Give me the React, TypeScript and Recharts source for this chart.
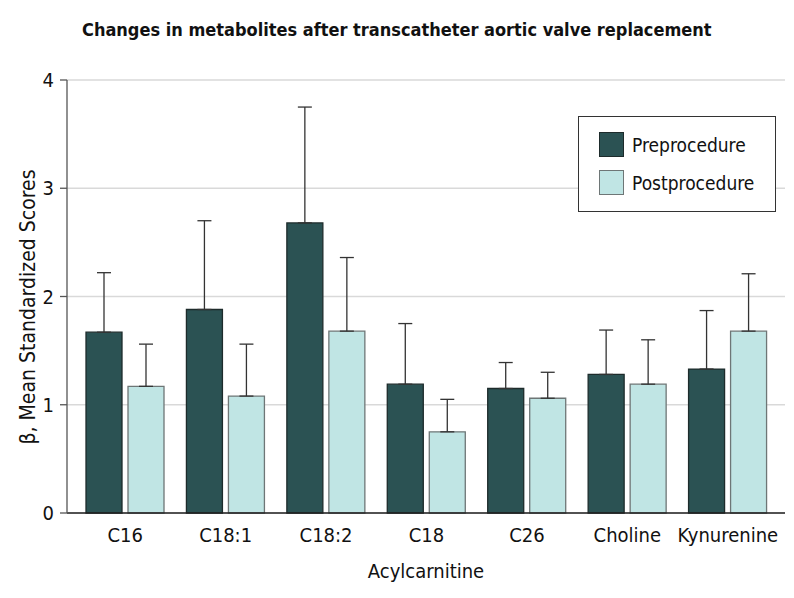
import {
  BarChart,
  Bar,
  XAxis,
  YAxis,
  CartesianGrid,
  ErrorBar,
  Legend,
} from "recharts";

const categories = ["C16", "C18:1", "C18:2", "C18", "C26", "Choline", "Kynurenine"];
const preValues = [1.67, 1.88, 2.68, 1.19, 1.15, 1.28, 1.33];
const preUpper = [2.22, 2.7, 3.75, 1.75, 1.39, 1.69, 1.87];
const postValues = [1.17, 1.08, 1.68, 0.75, 1.06, 1.19, 1.68];
const postUpper = [1.56, 1.56, 2.36, 1.05, 1.3, 1.6, 2.21];
const yTicks = [0, 1, 2, 3, 4];

const PRE_FILL = "#2b5253";
const POST_FILL = "#c0e5e4";
const FONT = "'DejaVu Sans Condensed', 'DejaVu Sans', sans-serif";

const data = categories.map((name, i) => ({
  name,
  pre: preValues[i],
  preErr: [0, +(preUpper[i] - preValues[i]).toFixed(3)],
  post: postValues[i],
  postErr: [0, +(postUpper[i] - postValues[i]).toFixed(3)],
}));

function LegendBox() {
  const items = [
    { label: "Preprocedure", fill: PRE_FILL, stroke: "#1d2b2b" },
    { label: "Postprocedure", fill: POST_FILL, stroke: "#6e7676" },
  ];
  return (
    <div
      style={{
        width: 198,
        height: 96,
        border: "1.3px solid #333",
        background: "#fff",
        boxSizing: "border-box",
        paddingTop: 15,
        paddingLeft: 20,
        fontFamily: FONT,
        fontSize: 19,
        color: "#111",
      }}
    >
      {items.map((it) => (
        <div key={it.label} style={{ display: "flex", alignItems: "center", height: 25, marginBottom: 13 }}>
          <span
            style={{
              width: 25,
              height: 25,
              background: it.fill,
              border: `1.3px solid ${it.stroke}`,
              boxSizing: "border-box",
              marginRight: 8,
            }}
          />
          <span>{it.label}</span>
        </div>
      ))}
    </div>
  );
}

export default function App() {
  return (
    <div style={{ position: "relative", width: 794, height: 598, background: "#fff" }}>
      <style>{`body{margin:0}`}</style>
      <div
        style={{
          position: "absolute",
          left: 82,
          top: 21,
          fontFamily: FONT,
          fontWeight: "bold",
          fontSize: 18,
          lineHeight: 1,
          color: "#111",
          whiteSpace: "nowrap",
        }}
      >
        Changes in metabolites after transcatheter aortic valve replacement
      </div>
      <div
        style={{
          position: "absolute",
          left: 426,
          top: 561,
          transform: "translateX(-50%)",
          fontFamily: FONT,
          fontSize: 20,
          lineHeight: 1,
          color: "#111",
          whiteSpace: "nowrap",
        }}
      >
        Acylcarnitine
      </div>
      <div
        style={{
          position: "absolute",
          left: 28,
          top: 307,
          transform: "translate(-50%, -50%) rotate(-90deg)",
          fontFamily: FONT,
          fontSize: 21,
          lineHeight: 1,
          color: "#111",
          whiteSpace: "nowrap",
        }}
      >
        β, Mean Standardized Scores
      </div>
      <BarChart
        width={794}
        height={598}
        data={data}
        margin={{ top: 80, right: 9, left: 22, bottom: 55 }}
        barGap={6}
        barSize={36}
      >
        <CartesianGrid vertical={false} stroke="#d9d9d9" strokeWidth={1.5} />
        <XAxis
          dataKey="name"
          height={30}
          padding={{ left: 8, right: 7 }}
          tickLine={false}
          tickSize={0}
          tickMargin={15}
          axisLine={{ stroke: "#222", strokeWidth: 1.3 }}
          tick={{ fontSize: 20, fill: "#111", fontFamily: FONT }}
        />
        <YAxis
          width={45}
          domain={[0, 4]}
          ticks={yTicks}
          interval={0}
          tickSize={7}
          tickMargin={6}
          axisLine={{ stroke: "#555", strokeWidth: 1.3 }}
          tickLine={{ stroke: "#555", strokeWidth: 1.3 }}
          tick={{ fontSize: 20, fill: "#111", fontFamily: FONT }}
        />
        <Legend
          layout="vertical"
          align="center"
          verticalAlign="middle"
          wrapperStyle={{ left: 578, top: 116, width: 198, height: 96 }}
          content={() => <LegendBox />}
        />
        <Bar dataKey="pre" name="Preprocedure" fill={PRE_FILL} stroke="#1d2b2b" strokeWidth={1.3} isAnimationActive={false}>
          <ErrorBar dataKey="preErr" width={7} stroke="#333" strokeWidth={1.3} direction="y" isAnimationActive={false} />
        </Bar>
        <Bar dataKey="post" name="Postprocedure" fill={POST_FILL} stroke="#6e7676" strokeWidth={1.3} isAnimationActive={false}>
          <ErrorBar dataKey="postErr" width={7} stroke="#333" strokeWidth={1.3} direction="y" isAnimationActive={false} />
        </Bar>
      </BarChart>
    </div>
  );
}
